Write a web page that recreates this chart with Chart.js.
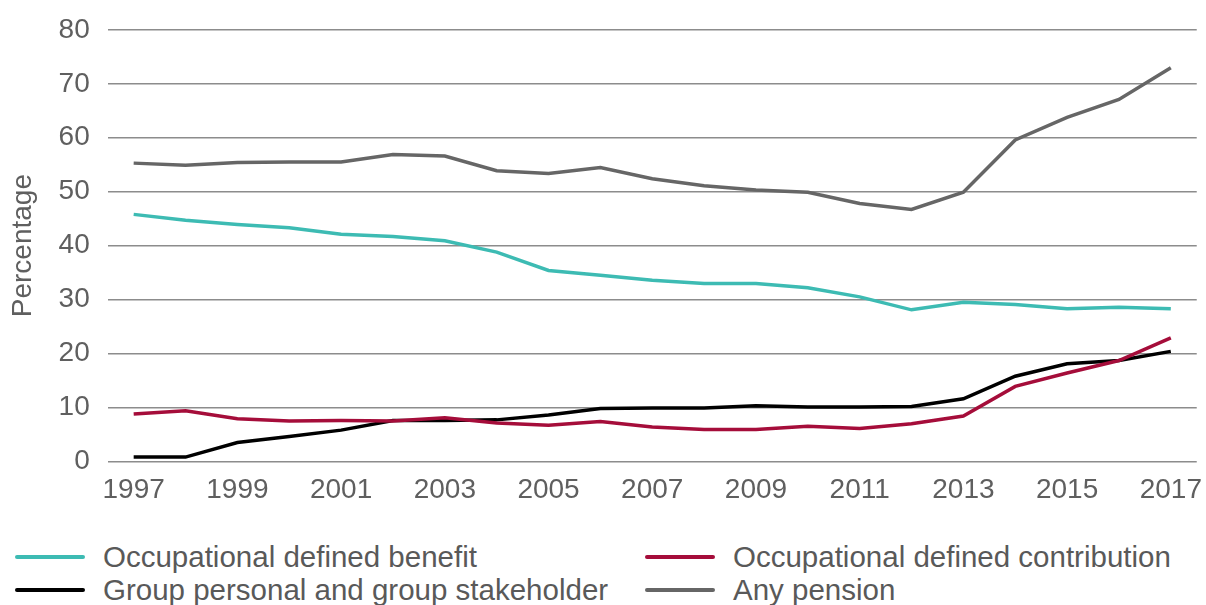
<!DOCTYPE html>
<html>
<head>
<meta charset="utf-8">
<script src="https://cdn.jsdelivr.net/npm/chart.js@4.4.1/dist/chart.umd.min.js"></script>
<style>
    html, body { margin: 0; padding: 0; background: #fff; }
    #wrap { position: relative; width: 1206px; height: 605px; overflow: hidden; }
    #chartBox { position: absolute; left: 0; top: 0; width: 1206px; height: 511px; }
    #legend { position: absolute; left: 0; top: 541px; width: 1206px; font-family: "Liberation Sans", Arial, sans-serif; font-size: 29.5px; color: #595959; }
    .item { position: absolute; display: flex; align-items: center; white-space: nowrap; line-height: 32px; }
    .swatch { width: 70px; height: 4px; margin-right: 18px; border-radius: 2px; }
</style>
</head>
<body>
<div id="wrap">
    <div id="chartBox"><canvas id="pensionChart"></canvas></div>
    <div id="legend"></div>
</div>
<script>
const years = ['1997', '1998', '1999', '2000', '2001', '2002', '2003', '2004', '2005', '2006', '2007',
    '2008', '2009', '2010', '2011', '2012', '2013', '2014', '2015', '2016', '2017'];
const definedBenefit = [45.8, 44.7, 43.9, 43.3, 42.1, 41.7, 40.9, 38.8, 35.4, 34.5, 33.6,
    33.0, 33.0, 32.2, 30.5, 28.1, 29.5, 29.1, 28.3, 28.6, 28.3];
const definedContribution = [8.8, 9.4, 7.9, 7.5, 7.6, 7.5, 8.1, 7.1, 6.7, 7.4, 6.4,
    5.9, 5.9, 6.5, 6.1, 7.0, 8.4, 13.9, 16.4, 18.7, 22.9];
const groupPersonal = [0.8, 0.8, 3.5, 4.6, 5.8, 7.6, 7.6, 7.7, 8.6, 9.8, 9.9,
    9.9, 10.3, 10.1, 10.1, 10.2, 11.6, 15.8, 18.1, 18.7, 20.4];
const anyPension = [55.3, 54.9, 55.4, 55.5, 55.5, 56.9, 56.6, 53.9, 53.4, 54.5, 52.4,
    51.1, 50.3, 49.9, 47.8, 46.7, 49.9, 59.6, 63.8, 67.1, 73.0];
const yTicks = [0, 10, 20, 30, 40, 50, 60, 70, 80];

const textColor = '#5f5f5f';
const fontFamily = '"Liberation Sans", Arial, sans-serif';

function series(label, data, color) {
    return {
        label: label,
        data: data,
        borderColor: color,
        backgroundColor: color,
        borderWidth: 3.5,
        pointRadius: 0,
        tension: 0,
        fill: false,
    };
}

const ctx = document.getElementById('pensionChart').getContext('2d');
const pensionChart = new Chart(ctx, {
    type: 'line',
    data: {
        labels: years,
        datasets: [
            series('Occupational defined benefit', definedBenefit, '#3dbbb3'),
            series('Occupational defined contribution', definedContribution, '#a50d3a'),
            series('Group personal and group stakeholder', groupPersonal, '#000000'),
            series('Any pension', anyPension, '#666666'),
        ],
    },
    options: {
        responsive: true,
        maintainAspectRatio: false,
        animation: false,
        layout: {
            padding: { left: 6, right: 2, top: 10, bottom: 0 },
        },
        plugins: {
            legend: { display: false },
            tooltip: { enabled: false },
        },
        scales: {
            x: {
                offset: true,
                grid: { display: false },
                border: { display: false },
                ticks: {
                    autoSkip: false,
                    maxRotation: 0,
                    padding: 4,
                    color: textColor,
                    font: { family: fontFamily, size: 28 },
                    callback: function (value, index) {
                        return index % 2 === 0 ? years[index] : '';
                    },
                },
            },
            y: {
                min: 0,
                max: 80,
                afterBuildTicks: axis => {
                    axis.ticks = yTicks.map(v => ({ value: v }));
                },
                grid: { color: '#8c8c8c', lineWidth: 1.5, drawTicks: false },
                border: { display: false },
                ticks: {
                    padding: 18,
                    color: textColor,
                    font: { family: fontFamily, size: 28, lineHeight: 0.85 },
                },
                title: {
                    display: true,
                    text: 'Percentage',
                    color: textColor,
                    font: { family: fontFamily, size: 28 },
                    padding: { top: 0, bottom: 1 },
                },
            },
        },
    },
});

// legend in two columns, built from the chart datasets
const legendBox = document.getElementById('legend');
const spots = [[15, 0], [645, 0], [15, 33], [645, 33]];
pensionChart.data.datasets.forEach((ds, i) => {
    const item = document.createElement('div');
    item.className = 'item';
    item.style.left = spots[i][0] + 'px';
    item.style.top = spots[i][1] + 'px';
    const sw = document.createElement('span');
    sw.className = 'swatch';
    sw.style.background = ds.borderColor;
    const txt = document.createElement('span');
    txt.textContent = ds.label;
    item.appendChild(sw);
    item.appendChild(txt);
    legendBox.appendChild(item);
});
</script>
</body>
</html>
